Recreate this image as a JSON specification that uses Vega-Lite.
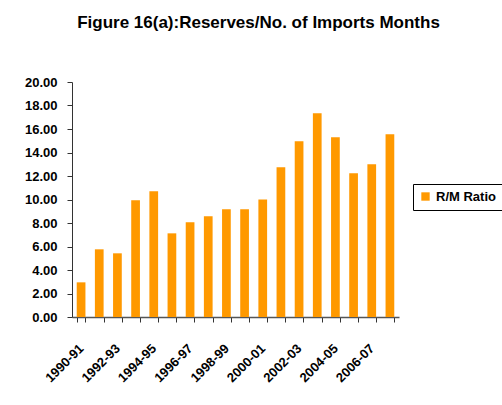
{
  "$schema": "https://vega.github.io/schema/vega-lite/v6.json",
  "width": 327,
  "height": 235,
  "autosize": {"type": "none"},
  "padding": {"left": 72, "top": 82, "right": 103, "bottom": 88},
  "background": "white",
  "title": {
    "text": "Figure 16(a):Reserves/No. of Imports Months",
    "font": "Liberation Sans",
    "fontSize": 17,
    "fontWeight": "bold",
    "color": "black",
    "anchor": "middle",
    "frame": "group",
    "dx": 23,
    "offset": 44
  },
  "data": {
    "values": [
      {"year": "1990-91", "ratio": 2.95, "series": "R/M Ratio"},
      {"year": "1991-92", "ratio": 5.76, "series": "R/M Ratio"},
      {"year": "1992-93", "ratio": 5.42, "series": "R/M Ratio"},
      {"year": "1993-94", "ratio": 9.93, "series": "R/M Ratio"},
      {"year": "1994-95", "ratio": 10.70, "series": "R/M Ratio"},
      {"year": "1995-96", "ratio": 7.12, "series": "R/M Ratio"},
      {"year": "1996-97", "ratio": 8.06, "series": "R/M Ratio"},
      {"year": "1997-98", "ratio": 8.57, "series": "R/M Ratio"},
      {"year": "1998-99", "ratio": 9.16, "series": "R/M Ratio"},
      {"year": "1999-00", "ratio": 9.16, "series": "R/M Ratio"},
      {"year": "2000-01", "ratio": 10.00, "series": "R/M Ratio"},
      {"year": "2001-02", "ratio": 12.74, "series": "R/M Ratio"},
      {"year": "2002-03", "ratio": 14.95, "series": "R/M Ratio"},
      {"year": "2003-04", "ratio": 17.33, "series": "R/M Ratio"},
      {"year": "2004-05", "ratio": 15.29, "series": "R/M Ratio"},
      {"year": "2005-06", "ratio": 12.23, "series": "R/M Ratio"},
      {"year": "2006-07", "ratio": 12.99, "series": "R/M Ratio"},
      {"year": "2007-08", "ratio": 15.55, "series": "R/M Ratio"}
    ]
  },
  "mark": {"type": "bar"},
  "encoding": {
    "x": {
      "field": "year",
      "type": "nominal",
      "sort": null,
      "title": null,
      "scale": {"paddingInner": 0.52, "paddingOuter": 0.26},
      "axis": {
        "labelAngle": -45,
        "labelAlign": "right",
        "labelBaseline": "middle",
        "labelFont": "Liberation Sans",
        "labelFontSize": 13,
        "labelFontWeight": "bold",
        "labelColor": "black",
        "labelPadding": 24,
        "labelExpr": "toNumber(substring(datum.value,0,4)) % 2 == 0 ? datum.value : ''",
        "tickBand": "extent",
        "tickSize": 5,
        "tickColor": "#333",
        "domainColor": "#555",
        "domainWidth": 1.5,
        "grid": false
      }
    },
    "y": {
      "field": "ratio",
      "type": "quantitative",
      "title": null,
      "scale": {"domain": [0, 20], "nice": false},
      "axis": {
        "values": [0, 2, 4, 6, 8, 10, 12, 14, 16, 18, 20],
        "format": ".2f",
        "labelFont": "Liberation Sans",
        "labelFontSize": 13,
        "labelFontWeight": "bold",
        "labelColor": "black",
        "labelPadding": 10,
        "tickSize": 5,
        "tickColor": "#333",
        "domainColor": "#333",
        "grid": false
      }
    },
    "color": {
      "field": "series",
      "type": "nominal",
      "scale": {"range": ["#FF9900"]},
      "legend": {
        "title": null,
        "orient": "none",
        "legendX": 341,
        "legendY": 102,
        "symbolType": "square",
        "symbolSize": 70,
        "symbolStrokeWidth": 0,
        "labelFont": "Liberation Sans",
        "labelFontSize": 13,
        "labelFontWeight": "bold",
        "labelColor": "black",
        "strokeColor": "black",
        "padding": 6,
        "labelOffset": 4,
        "fillColor": "white"
      }
    }
  },
  "config": {"view": {"stroke": null}}
}
